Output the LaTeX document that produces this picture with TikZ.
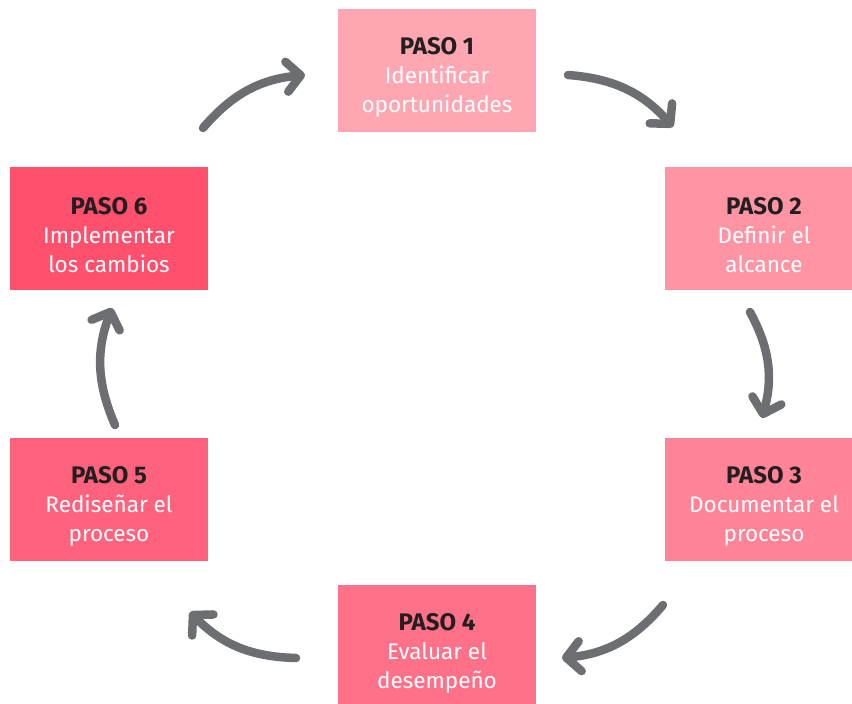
\documentclass[tikz,border=0pt]{standalone}
\usepackage{fontspec}
\setmainfont{Fira Sans}
\usetikzlibrary{arrows.meta}

\definecolor{gris}{HTML}{6D6E71}
\definecolor{titulo}{HTML}{231F20}
\definecolor{rosa1}{HTML}{FFA6B3}
\definecolor{rosa2}{HTML}{FF94A5}
\definecolor{rosa3}{HTML}{FF8498}
\definecolor{rosa4}{HTML}{FF7189}
\definecolor{rosa5}{HTML}{FF627C}
\definecolor{rosa6}{HTML}{FF506E}

\tikzstyle{paso}=[minimum width=198pt,minimum height=123pt,inner sep=0pt,align=center,text=white,font=\fontsize{22.5}{29}\selectfont]
\tikzstyle{flecha}=[draw=gris,line width=8.5pt,line cap=round,-{Straight Barb[length=14pt,width=30pt,round]}]
\newcommand{\titpaso}[1]{{\fontsize{24}{29}\bfseries\color{titulo}\rule{0pt}{30pt}PASO #1}}

\begin{document}
\begin{tikzpicture}[x=1pt,y=1pt]
			\useasboundingbox (0,0) rectangle (852,704);
			\clip (0,0) rectangle (852,704);
			% cajas
			\node[paso,fill=rosa1] (p1) at (437,633.5) {\titpaso{1}\\Identificar\\oportunidades};
			\node[paso,fill=rosa2] (p2) at (764,475.5) {\titpaso{2}\\Definir el\\alcance};
			\node[paso,fill=rosa3] (p3) at (764,204.5) {\titpaso{3}\\Documentar el\\proceso};
			\node[paso,fill=rosa4] (p4) at (437,57.5) {\titpaso{4}\\Evaluar el\\desempeño};
			\node[paso,fill=rosa5] (p5) at (109,204.5) {\titpaso{5}\\Rediseñar el\\proceso};
			\node[paso,fill=rosa6] (p6) at (109,475.5) {\titpaso{6}\\Implementar\\los cambios};
			% flechas
			\coordinate (s1) at (203,576);  \coordinate (e1) at (305,629);
			\coordinate (s2) at (568,629);  \coordinate (e2) at (673,577);
			\coordinate (s3) at (750,392);  \coordinate (e3) at (762,286);
			\coordinate (s4) at (663,99);   \coordinate (e4) at (562,46);
			\coordinate (s5) at (296,46);   \coordinate (e5) at (190,92);
			\coordinate (s6) at (115,279);  \coordinate (e6) at (112,396);
			\foreach \i in {1,...,6} {
				\draw[flecha] (s\i) to[bend left=22] (e\i);
			}
		\end{tikzpicture}
\end{document}
